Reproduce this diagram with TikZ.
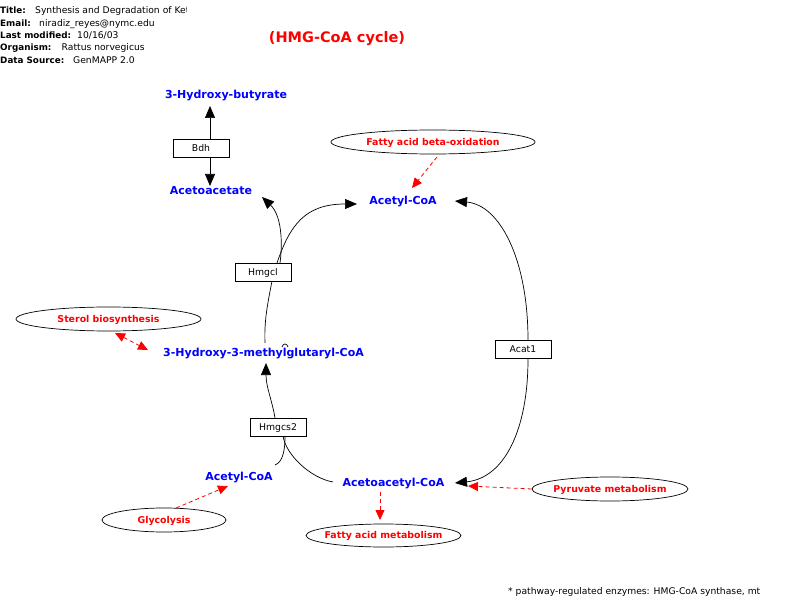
\documentclass[tikz,border=0pt]{standalone}
\usepackage{fontspec}
\setmainfont{DejaVu Sans}
\usetikzlibrary{arrows.meta,calc,shapes.geometric}
\definecolor{metblue}{RGB}{0,0,255}
\definecolor{pwred}{RGB}{255,0,0}
\begin{document}
\begin{tikzpicture}[x=1pt,y=-1pt,
  met/.style={text=metblue, font=\fontsize{11}{13}\selectfont\bfseries, inner sep=0pt, text height=8pt, text depth=0pt},
  enz/.style={draw, line width=0.7pt, minimum width=56pt, minimum height=18pt, inner sep=0pt, text height=6.8pt, text depth=0pt, font=\fontsize{9.3}{11}\selectfont},
  pw/.style={draw, ellipse, line width=0.7pt, inner sep=0pt},
  pwtext/.style={inner sep=0pt, text height=6.9pt, text depth=0pt, text=pwred, font=\fontsize{9.4}{11}\selectfont\bfseries},
  meta/.style={anchor=west, inner sep=0pt, text height=6.8pt, text depth=0pt, font=\fontsize{9.2}{11}\selectfont},
  metab/.style={meta, font=\fontsize{8.8}{11}\selectfont\bfseries},
  rx/.style={line width=0.7pt, -{Triangle[length=12pt,width=10pt]}},
  link/.style={pwred, line width=0.8pt, dash pattern=on 4pt off 3pt, -{Triangle[length=10pt,width=9pt]}},
]
\useasboundingbox (0,0) rectangle (798,612);

% header
\begin{scope}
\clip (0,0) rectangle (186,16);
\node[metab] (t1) at (0,10) {Title:};
\node[meta] (t1v) at (35,10) {Synthesis and Degradation of Ketone Bodies};
\end{scope}
\node[metab] (t2) at (0,23) {Email:};
\node[meta] (t2v) at (39,23) {niradiz\_reyes@nymc.edu};
\node[metab] (t3) at (0,35) {Last modified:};
\node[meta] (t3v) at (77,35) {10/16/03};
\node[metab] (t4) at (0,47.5) {Organism:};
\node[meta] (t4v) at (61.5,47.5) {Rattus norvegicus};
\node[metab] (t5) at (0,60) {Data Source:};
\node[meta] (t5v) at (73,60) {GenMAPP 2.0};
\node[inner sep=0pt, text=pwred, text height=10.6pt, text depth=0pt, font=\fontsize{14.5}{16}\selectfont\bfseries] (title) at (337,37) {(HMG-CoA cycle)};
\node[meta] (foot) at (508,591) {* pathway-regulated enzymes: HMG-CoA synthase, mt};

% metabolites
\node[met] (hb) at (226,95) {3-Hydroxy-butyrate};
\node[met] (aa) at (211,191) {Acetoacetate};
\node[met] (acoa) at (403,201) {Acetyl-CoA};
\node[met] (hmg) at (263.5,352) {3-Hydroxy-3-methylglutaryl-CoA};
\node[met] (acoa2) at (239,476) {Acetyl-CoA};
\node[met] (aacoa) at (393.5,482) {Acetoacetyl-CoA};

% enzymes
\node[enz] (bdh) at (201,148) {Bdh};
\node[enz] (hmgcl) at (263,272) {Hmgcl};
\node[enz] (acat) at (523,349.5) {Acat1};
\node[enz] (hmgcs) at (278,427) {Hmgcs2};

% pathways
\node[pw, minimum width=204pt, minimum height=24pt, label={[pwtext]center:Fatty acid beta-oxidation}] (beta) at (433,142) {};
\node[pw, minimum width=185pt, minimum height=24pt, label={[pwtext]center:Sterol biosynthesis}] (sterol) at (108.5,319) {};
\node[pw, minimum width=156pt, minimum height=24pt, label={[pwtext]center:Pyruvate metabolism}] (pyr) at (610,489) {};
\node[pw, minimum width=124pt, minimum height=24pt, label={[pwtext]center:Glycolysis}] (glyc) at (164,520) {};
\node[pw, minimum width=155pt, minimum height=23pt, label={[pwtext]center:Fatty acid metabolism}] (fam) at (383.5,535.5) {};

% Bdh
\draw[rx] ($(bdh)+(9,-9)$) -- ($(hb)+(-16,11)$);
\draw[rx] ($(bdh)+(9,9)$) -- ($(aa)+(-1,-5)$);

% Hmgcs2 -> HMG-CoA
\draw[rx] ($(hmgcs)+(-3,-9)$) .. controls ($(hmgcs)+(-6,-27)$) and ($(hmg)+(2.5,35)$) .. ($(hmg)+(2.5,11)$);
\draw[line width=0.7pt] ($(aacoa)+(-60.5,0)$) .. controls ($(aacoa)+(-83,-4)$) and ($(hmgcs)+(8,28)$) .. ($(hmgcs)+(5,9)$);
\draw[line width=0.7pt] ($(acoa2)+(36,-11)$) .. controls ($(acoa2)+(44,-14)$) and ($(hmgcs)+(7,23)$) .. ($(hmgcs)+(7,9)$);

% HMG-CoA -> Hmgcl
\draw[line width=0.7pt] ($(hmg)+(1.5,-9)$) .. controls ($(hmg)+(0.5,-32)$) and ($(hmgcl)+(5,30)$) .. ($(hmgcl)+(9,9)$);
\draw[line width=0.7pt] (282,347) .. controls (283,343) and (287,343) .. (288,347);

% Hmgcl -> products
\draw[rx] ($(hmgcl)+(17,-9)$) .. controls ($(hmgcl)+(20,-32)$) and ($(hmgcl)+(18,-57)$) .. ($(aa)+(51,6)$);
\draw[rx] ($(hmgcl)+(14,-9)$) .. controls ($(hmgcl)+(27,-47)$) and ($(hmgcl)+(42,-68)$) .. ($(acoa)+(-46,3)$);

% Acat1
\draw[rx] ($(acat)+(5,-9.5)$) .. controls ($(acat)+(5,-90)$) and ($(acoa)+(97,4)$) .. ($(acoa)+(52,0)$);
\draw[rx] ($(acat)+(5,9.5)$) .. controls ($(acat)+(5,80)$) and ($(aacoa)+(111,-4)$) .. ($(aacoa)+(61.5,1)$);

% pathway links
\draw[link] ($(beta)+(4,15)$) -- ($(acoa)+(9,-13)$);
\draw[link, {Triangle[length=10pt,width=9pt]}-{Triangle[length=10pt,width=9pt]}] ($(sterol)+(6.5,14)$) -- ($(hmg)+(-115.5,-2)$);
\draw[link] ($(glyc)+(12,-12)$) -- ($(acoa2)+(-11,10)$);
\draw[link] ($(aacoa)+(-13.5,10)$) -- ($(fam)+(-3.5,-15.5)$);
\draw[link] (pyr.west) -- ($(aacoa)+(74.5,4)$);
\end{tikzpicture}
\end{document}
